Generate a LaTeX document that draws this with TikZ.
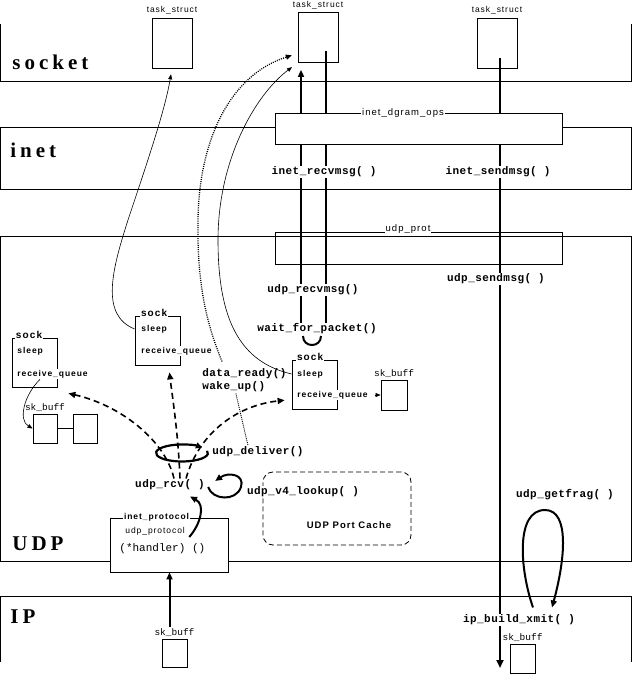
\documentclass[tikz,border=0pt]{standalone}
\usepackage{fontspec,tikz}
\usetikzlibrary{arrows.meta,positioning}
\newfontfamily\layerfont[LetterSpace=19]{Liberation Serif}
\newfontfamily\callfont[LetterSpace=4]{Liberation Mono}
\newfontfamily\tagfont[LetterSpace=11]{Liberation Sans}
\newfontfamily\plainmono{Liberation Mono}
\pgfdeclarelayer{bg}
\pgfsetlayers{bg,main}

\begin{document}
\begin{tikzpicture}[x=1pt,y=-1pt,line width=.8pt,
  layer/.style={anchor=west,inner sep=0pt,font=\fontsize{21}{24}\layerfont\bfseries},
  call/.style={fill=white,inner sep=1pt,font=\fontsize{11}{13}\callfont\bfseries},
  tag/.style={fill=white,inner sep=1pt,font=\fontsize{8.5}{10}\tagfont},
  field/.style={anchor=west,fill=white,inner sep=1pt,font=\fontsize{8.5}{10}\tagfont\bfseries},
  socktag/.style={anchor=west,fill=white,inner sep=1pt,font=\fontsize{10}{12}\tagfont\bfseries},
  sockbox/.style={draw,minimum width=45pt,minimum height=49pt,inner sep=0pt},
  taskbox/.style={draw,minimum width=40pt,minimum height=50pt,inner sep=0pt},
  buf/.style={draw,minimum width=25pt,minimum height=29pt,inner sep=0pt},
  buftag/.style={inner sep=1pt,font=\fontsize{9.5}{11}\plainmono},
  flow/.style={line width=2pt,-{Triangle[length=7pt,width=6pt]}},
  notify/.style={line width=1.6pt,dash pattern=on 6pt off 4pt,-{Triangle[length=7pt,width=6pt]}},
  pointer/.style={line width=.6pt,-{Triangle[length=5pt,width=4pt]}},
  dotflow/.style={line width=1.3pt,dash pattern=on 1pt off 1.2pt,-{Triangle[length=6pt,width=5pt]}}]
\useasboundingbox (0,0) rectangle (633,674);
% layers of the stack
\draw (0.5,24) -- (0.5,81) -- (631.5,81) -- (631.5,24);
\draw (0.5,127) rectangle (631.5,189);
\draw (0.5,236) rectangle (631.5,561);
\draw (0.5,662) -- (0.5,596) -- (631.5,596) -- (631.5,662);
\node[layer] (socket) at (12,62) {socket};
\node[layer] (inet) at (10,150) {inet};
\node[layer] (udp) at (12,544) {UDP};
\node[layer] (ip) at (10,617) {IP};
% one task_struct per process
\foreach \name/\x/\y in {ts1/172/43,ts2/318/37.5,ts3/497/43}{
  \node[taskbox] (\name) at (\x,\y) {};
  \node[tag,above=2pt of \name] {task\_struct};
}
\coordinate (sendout) at (500,668);
% operation tables
\node[draw,fill=white,minimum width=287pt,minimum height=31pt] (dgram) at (418.5,128.5) {};
\node[tag,font=\fontsize{9.5}{11}\tagfont] at (403,113) {inet\_dgram\_ops};
\node[draw,minimum width=287pt,minimum height=32pt] (prot) at (418.5,248) {};
\node[tag,font=\fontsize{9.5}{11}\tagfont] at (408,229) {udp\_prot};
% sock structures and their buffers
\node[sockbox] (lsock) at (34.5,362.5) {};
\node[socktag] at ([shift={(3pt,3pt)}]lsock.north west) {sock};
\node[field] (lsleep) at (16,351) {sleep};
\node[field] (lqueue) at (16,374) {receive\_queue};
\node[sockbox] (msock) at (157.5,340.5) {};
\node[socktag] at ([shift={(5pt,3pt)}]msock.north west) {sock};
\node[field] (msleep) at (140,329) {sleep};
\node[field] (mqueue) at (140,351) {receive\_queue};
\node[sockbox] (rsock) at (314.5,384.5) {};
\node[socktag] at ([shift={(4pt,3pt)}]rsock.north west) {sock};
\node[field] (rsleep) at (296,374) {sleep};
\node[field] (rqueue) at (296,395) {receive\_queue};
\node[buf,minimum width=24pt] (lbuf) at (45,428.5) {};
\node[buf,minimum width=24pt] (lbufnext) at (85,428.5) {};
\node[buftag,above=1pt of lbuf] {sk\_buff};
\draw (lbuf) -- (lbufnext);
\node[buf,minimum width=26pt,minimum height=30pt] (rbuf) at (394,395) {};
\node[buftag,above=1pt of rbuf] {sk\_buff};
\node[buf,minimum height=28pt] (inbuf) at (174.5,653) {};
\node[buftag,above=1pt of inbuf] (inbuftag) {sk\_buff};
\node[buf] (outbuf) at (522.5,658.5) {};
\node[buftag,above=1pt of outbuf] {sk\_buff};
% protocol handler and port cache
\node[draw,fill=white,minimum width=118pt,minimum height=54pt] (inetproto) at (169,545) {};
\node[anchor=west,fill=white,inner sep=1pt,font=\fontsize{8.5}{10}\tagfont\bfseries] at ([xshift=13pt]inetproto.north west) {inet\_protocol};
\node[anchor=west,inner sep=1pt,font=\fontsize{8.5}{10}\tagfont] (udpproto) at (124,531) {udp\_protocol};
\node[anchor=west,inner sep=0pt,font=\fontsize{11}{13}\plainmono] (handler) at (119,549) {(*handler) ()};
\node[draw,dash pattern=on 5pt off 3pt,rounded corners=10pt,minimum width=148pt,minimum height=73pt] (cache) at (337,508.5) {};
\node[inner sep=0pt,font=\fontsize{9.5}{11}\tagfont\bfseries] at (349,525) {UDP Port Cache};
% function calls
\node[call] (irecv) at (324,172) {inet\_recvmsg( )};
\node[call] (isend) at (498,172) {inet\_sendmsg( )};
\node[call] (urecv) at (313,290) {udp\_recvmsg()};
\node[call] (usend) at (496,279) {udp\_sendmsg( )};
\node[call] (wfp) at (317,329) {wait\_for\_packet()};
\node[call] (ipbx) at (519,620) {ip\_build\_xmit( )};
\node[call] (getfrag) at (565,495) {udp\_getfrag( )};
\node[call] (udprcv) at (170,485) {udp\_rcv( )};
\node[call] (deliver) at (258,452) {udp\_deliver()};
\node[call] (lookup) at (303,492) {udp\_v4\_lookup( )};
\node[call,anchor=west] (dready) at (201,374) {data\_ready()};
\node[call,anchor=west] (wakeup) at (201,387) {wake\_up()};
% system call paths run behind the tables and labels
\begin{pgfonlayer}{bg}
\draw[flow,shorten >=7pt] ([xshift=-17pt]ts2.south |- wfp) -- ([xshift=-17pt]ts2.south);
\draw[line width=2pt] ([shift={(8pt,-14pt)}]ts2.center) -- ([xshift=8pt]ts2.center |- wfp);
\draw[line width=2.6pt,-{Triangle[length=8pt,width=7pt]}] ([shift={(3pt,-15pt)}]ts3.center) -- (sendout);
\end{pgfonlayer}
\draw[line width=2pt] ([shift={(-14pt,-7pt)}]wfp.center) .. controls +(0,12) and +(0,12) .. ([shift={(4pt,-7pt)}]wfp.center);
% wake-up pointers back to the sleeping processes
\draw[pointer,shorten >=6pt] (msleep.west -| msock.west) .. controls (100,315) and (112,270) .. (128,220) .. controls (148,160) and (165,110) .. (ts1.south);
\draw[pointer,shorten >=7pt] (rsleep.west -| rsock.west) .. controls (240,362) and (218,320) .. (218,240) .. controls (218,160) and (255,95) .. (ts2.south west);
\draw[dotflow,shorten >=6pt] ([shift={(21pt,6pt)}]dready.north west) .. controls (205,320) and (197,280) .. (198,220) .. controls (199,140) and (230,75) .. ([yshift=-16pt]ts2.west);
\draw[line width=.9pt,dash pattern=on 1pt off 1pt] ([xshift=2pt]wakeup.south) -- ([xshift=-10pt]deliver.north);
\draw[pointer] ([xshift=24pt]lqueue.south west) .. controls (24,395) and (18,420) .. (lbuf.west);
\draw[pointer,shorten <=6pt] (rqueue.east) -- (rbuf.west);
% udp_deliver() hands the packet to every matching sock
\coordinate (deliv) at (182,453);
\draw[line width=2.2pt,-{Triangle[length=6pt,width=6pt]}] ([shift={(-15:26 and 8.5)}]deliv) arc[start angle=-15,end angle=320,x radius=26,y radius=8.5];
\draw[notify] ([xshift=4pt]udprcv.north) .. controls (165,440) and (120,405) .. ([shift={(11pt,-6pt)}]lsock.south east);
\draw[notify] ([xshift=10pt]udprcv.north) .. controls (178,430) and (172,395) .. ([shift={(12pt,-7pt)}]msock.south);
\draw[notify,shorten >=7pt] ([xshift=16pt]udprcv.north) .. controls (200,430) and (240,405) .. ([yshift=-15pt]rsock.west);
\draw[flow] ([shift={(2pt,-2pt)}]udprcv.east) .. controls (212,500) and (236,502) .. (241,487) .. controls (245,474) and (228,472) .. ([shift={(9pt,4pt)}]udprcv.east);
\draw[flow] ([shift={(3pt,-6pt)}]udpproto.east) .. controls (200,525) and (206,505) .. ([shift={(20pt,-5pt)}]udprcv.south);
\draw[flow] ([xshift=-5pt]inbuftag.north) -- ([xshift=-5pt]inbuftag.north |- inetproto.south);
\draw[flow] ([shift={(14pt,6pt)}]ipbx.north) .. controls (520,570) and (515,510) .. (545,510) .. controls (570,510) and (565,560) .. ([shift={(33pt,6pt)}]ipbx.north);
\end{tikzpicture}
\end{document}
